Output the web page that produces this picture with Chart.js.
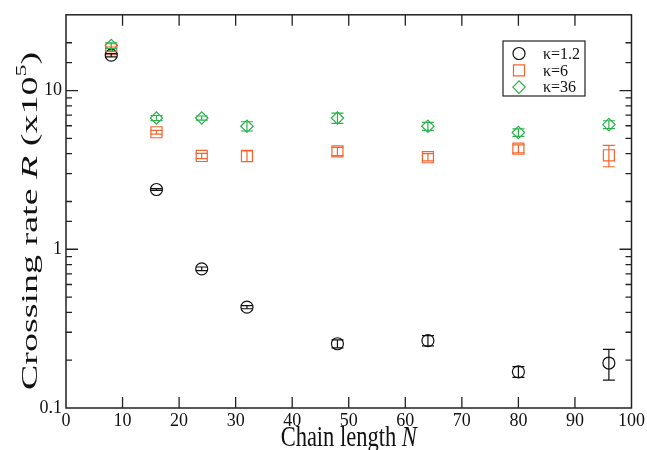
<!DOCTYPE html>
<html>
<head>
<meta charset="utf-8">
<script src="https://cdn.jsdelivr.net/npm/chart.js@4.4.1/dist/chart.umd.min.js"></script>
<style>
  html, body { margin: 0; padding: 0; background: #fff; }
  #wrap { width: 647px; height: 450px; position: relative; }
</style>
</head>
<body>
<div id="wrap"><canvas id="c" width="647" height="450"></canvas></div>
<script>
// Chain length N
const chainLength = [8, 16, 24, 32, 48, 64, 80, 96];

// Crossing rate R (x10^5) and its error, per stiffness kappa
const rateK12 = [16.7, 2.38, 0.753, 0.432, 0.254, 0.266, 0.169, 0.192];
const errK12  = [0.4, 0.03, 0.02, 0.01, 0.015, 0.02, 0.013, 0.042];
const rateK6  = [18.2, 5.46, 3.87, 3.87, 4.14, 3.80, 4.30, 3.91];
const errK6   = [0.6, 0.15, 0.15, 0.3, 0.25, 0.2, 0.25, 0.6];
const rateK36 = [19.2, 6.71, 6.71, 5.96, 6.71, 5.96, 5.44, 6.10];
const errK36  = [0.8, 0.25, 0.2, 0.4, 0.5, 0.35, 0.3, 0.35];

const seriesLabels = ['κ=1.2', 'κ=6', 'κ=36'];
const xTickValues = [0, 10, 20, 30, 40, 50, 60, 70, 80, 90, 100];
const yMajorTicks = [0.1, 1, 10];

const SERIF = '"Liberation Serif", "Times New Roman", serif';
const AXIS_COLOR = '#222';

function points(rates, errs) {
  return chainLength.map((n, i) => ({ x: n, y: rates[i], err: errs[i] }));
}

const isMajor = v => Math.abs(Math.log10(v) - Math.round(Math.log10(v))) < 1e-6;

// Vertical error bars with caps, placed through the chart's own scales
const errorBars = {
  id: 'errorBars',
  afterDatasetsDraw(chart) {
    const { ctx } = chart;
    const xs = chart.scales.x, ys = chart.scales.y;
    chart.data.datasets.forEach(ds => {
      ctx.save();
      ctx.strokeStyle = ds.borderColor;
      ctx.lineWidth = 1.2;
      ds.data.forEach(p => {
        const px = xs.getPixelForValue(p.x);
        const top = ys.getPixelForValue(p.y + p.err);
        const bot = ys.getPixelForValue(Math.max(p.y - p.err, 1e-6));
        const cap = 6;
        ctx.beginPath();
        ctx.moveTo(px, top); ctx.lineTo(px, bot);
        ctx.moveTo(px - cap, top); ctx.lineTo(px + cap, top);
        ctx.moveTo(px - cap, bot); ctx.lineTo(px + cap, bot);
        ctx.stroke();
      });
      ctx.restore();
    });
  }
};

// Draw a run of text pieces (font + vertical shift) centred on the origin
function drawRun(ctx, parts) {
  let total = 0;
  parts.forEach(p => { ctx.font = p.f; p.w = ctx.measureText(p.t).width; total += p.w; });
  let xx = -total / 2;
  parts.forEach(p => { ctx.font = p.f; ctx.fillText(p.t, xx, p.dy || 0); xx += p.w; });
}

// Frame with inward ticks on all four sides, axis titles and the legend box
const frame = {
  id: 'frame',
  afterDraw(chart) {
    const { ctx, chartArea: a } = chart;
    const xs = chart.scales.x, ys = chart.scales.y;
    ctx.save();
    ctx.strokeStyle = AXIS_COLOR;
    ctx.lineWidth = 1.5;
    ctx.strokeRect(a.left, a.top, a.right - a.left, a.bottom - a.top);

    ctx.lineWidth = 1.3;
    ctx.beginPath();
    xs.ticks.forEach(t => {
      const px = xs.getPixelForValue(t.value);
      if (px <= a.left + 1 || px >= a.right - 1) return;
      ctx.moveTo(px, a.bottom); ctx.lineTo(px, a.bottom - 11);
      ctx.moveTo(px, a.top); ctx.lineTo(px, a.top + 11);
    });
    ys.ticks.forEach(t => {
      const py = ys.getPixelForValue(t.value);
      if (py >= a.bottom - 1 || py <= a.top + 1) return;
      const len = isMajor(t.value) ? 12 : 6;
      ctx.moveTo(a.left, py); ctx.lineTo(a.left + len, py);
      ctx.moveTo(a.right, py); ctx.lineTo(a.right - len, py);
    });
    ctx.stroke();

    ctx.fillStyle = '#111';
    ctx.textBaseline = 'alphabetic';
    ctx.textAlign = 'left';

    // x title (tall, narrow lettering)
    const XT = 30;
    ctx.save();
    ctx.translate((a.left + a.right) / 2, 446);
    ctx.scale(0.75, 1);
    drawRun(ctx, [
      { t: 'Chain length ', f: XT + 'px ' + SERIF },
      { t: 'N', f: 'italic ' + XT + 'px ' + SERIF }
    ]);
    ctx.restore();

    // y title, rotated
    const YT = 38;
    ctx.save();
    ctx.translate(37, 221);
    ctx.scale(0.63, 1);
    ctx.rotate(-Math.PI / 2);
    drawRun(ctx, [
      { t: 'Crossing rate ', f: YT + 'px ' + SERIF },
      { t: 'R', f: 'italic ' + YT + 'px ' + SERIF },
      { t: ' (x10', f: YT + 'px ' + SERIF },
      { t: '5', f: Math.round(YT * 0.62) + 'px ' + SERIF, dy: -YT * 0.45 },
      { t: ')', f: YT + 'px ' + SERIF }
    ]);
    ctx.restore();

    // legend
    const L = { x: 503, y: 41, w: 82, h: 55 };
    ctx.lineWidth = 1.2;
    ctx.strokeStyle = '#222';
    ctx.strokeRect(L.x, L.y, L.w, L.h);
    ctx.font = '16px ' + SERIF;
    ctx.textBaseline = 'middle';
    chart.data.datasets.forEach((ds, i) => {
      const ry = L.y + 12.5 + i * 16.8;
      ctx.save();
      ctx.strokeStyle = ds.borderColor;
      ctx.fillStyle = 'rgba(0,0,0,0)';
      ctx.lineWidth = 1.2;
      Chart.helpers.drawPoint(ctx, { pointStyle: ds.pointStyle, radius: ds.pointRadius, borderWidth: 1.2, rotation: 0 }, L.x + 16, ry);
      ctx.restore();
      ctx.fillStyle = '#111';
      ctx.fillText(seriesLabels[i], L.x + 40, ry + 1);
    });
    ctx.restore();
  }
};

new Chart(document.getElementById('c'), {
  type: 'scatter',
  data: {
    datasets: [
      { label: seriesLabels[0], data: points(rateK12, errK12), borderColor: '#111', backgroundColor: 'rgba(0,0,0,0)', pointStyle: 'circle', pointRadius: 6, borderWidth: 1.2 },
      { label: seriesLabels[1], data: points(rateK6, errK6), borderColor: '#f5652e', backgroundColor: 'rgba(0,0,0,0)', pointStyle: 'rect', pointRadius: 7.8, borderWidth: 1.2 },
      { label: seriesLabels[2], data: points(rateK36, errK36), borderColor: '#2bb24c', backgroundColor: 'rgba(0,0,0,0)', pointStyle: 'rectRot', pointRadius: 6.2, borderWidth: 1.2 }
    ]
  },
  options: {
    responsive: false,
    animation: false,
    layout: { padding: { top: 12, right: 14, left: 0, bottom: 0 } },
    plugins: { legend: { display: false }, tooltip: { enabled: false } },
    elements: { point: { hoverRadius: 6 } },
    scales: {
      x: {
        type: 'linear', min: 0, max: 100,
        afterBuildTicks: s => { s.ticks = xTickValues.map(v => ({ value: v })); },
        grid: { display: false, drawTicks: false },
        border: { display: false },
        ticks: { color: '#111', font: { family: SERIF, size: 18 }, padding: 2, maxRotation: 0, autoSkip: false },
        afterFit: s => { s.height = 42; }
      },
      y: {
        type: 'logarithmic', min: 0.1, max: 30,
        grid: { display: false, drawTicks: false },
        border: { display: false },
        ticks: {
          color: '#111', font: { family: SERIF, size: 18 }, padding: 4, autoSkip: false,
          callback: v => {
            const m = yMajorTicks.find(t => Math.abs(t - v) / t < 1e-6);
            return m === undefined ? '' : String(m);
          }
        },
        afterFit: s => { s.width = 66; }
      }
    }
  },
  plugins: [errorBars, frame]
});
</script>
</body>
</html>
